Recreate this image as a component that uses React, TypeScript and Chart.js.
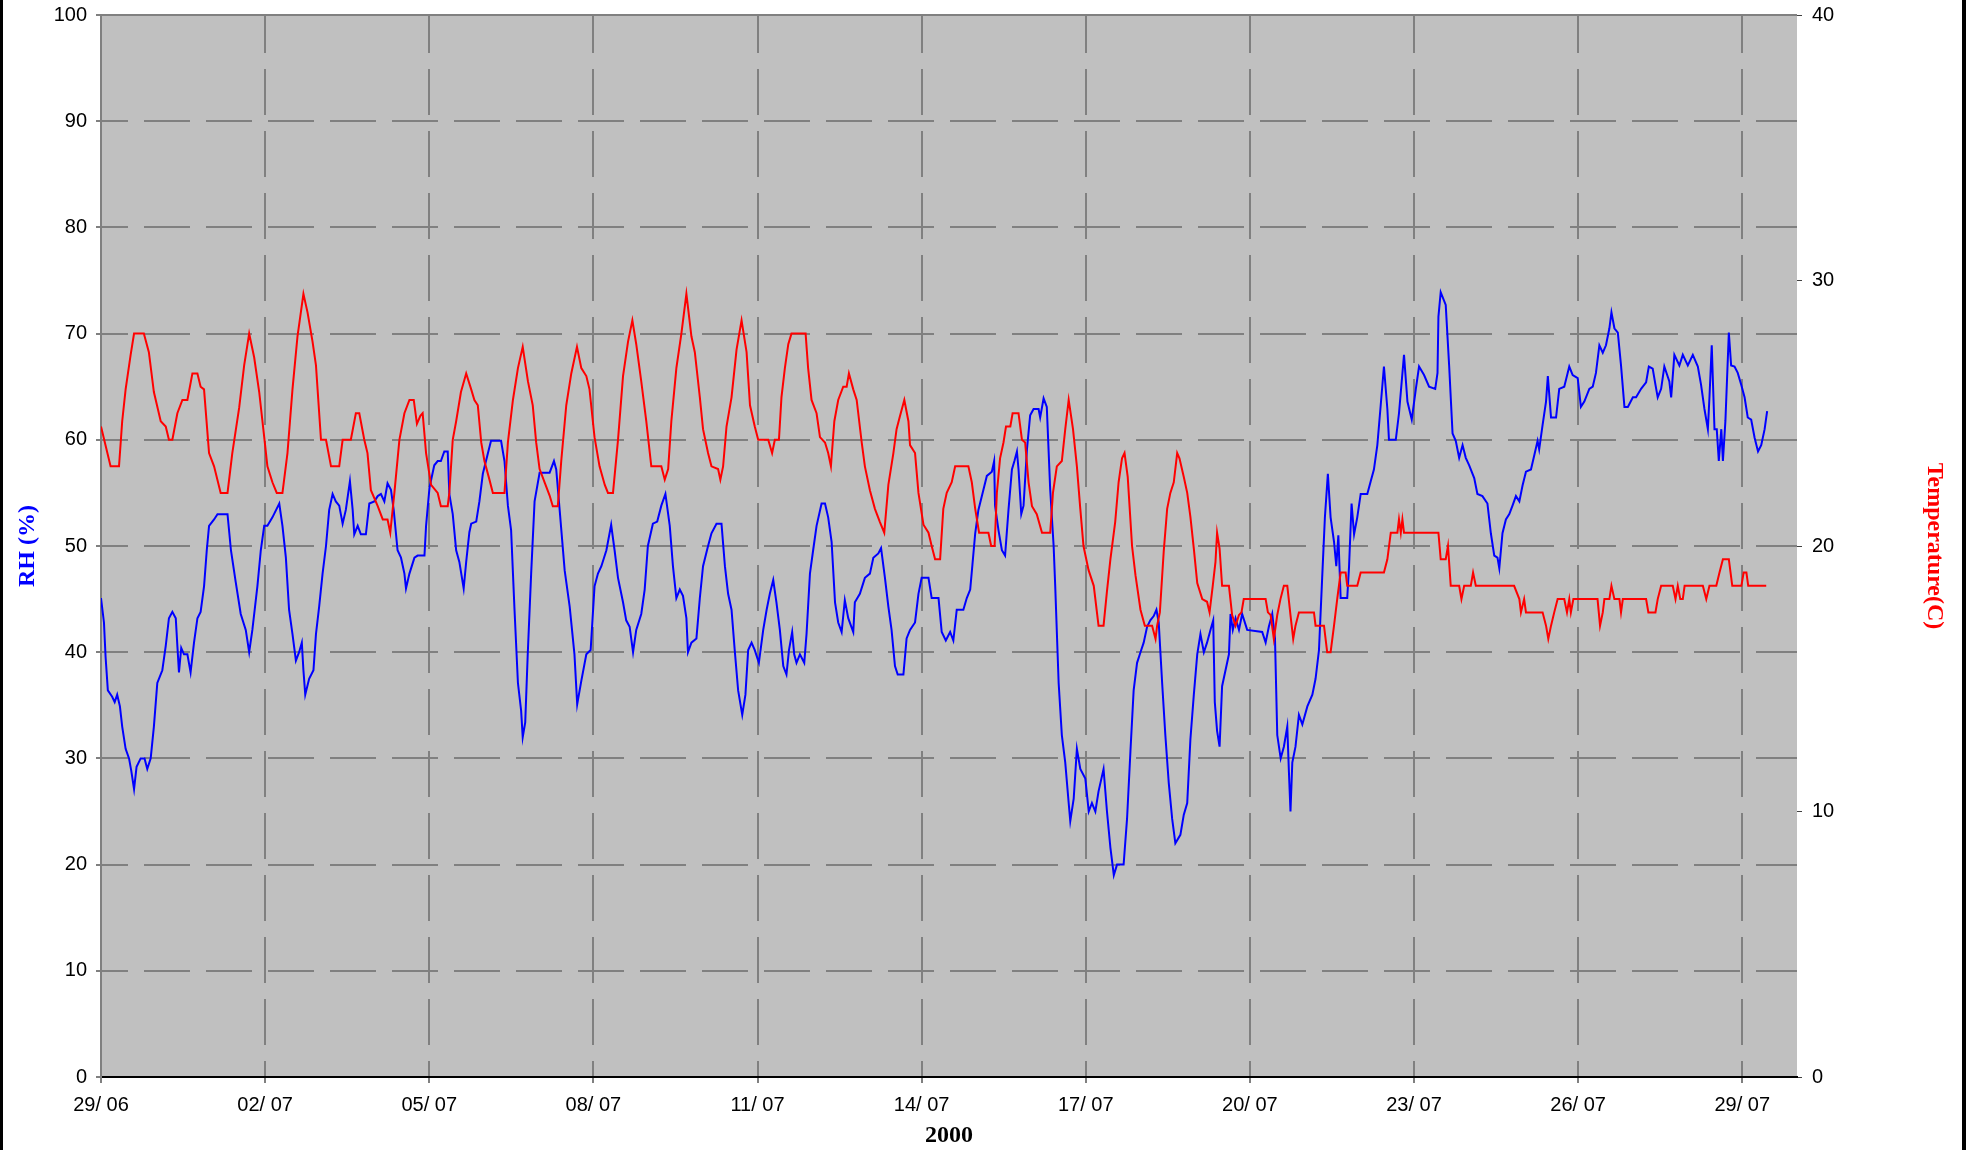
import React, { useEffect, useRef } from 'react';
import { Chart, registerables } from 'chart.js';

Chart.register(...registerables);

// x axis: hours since 29/06 00:00
const xTickHours = [0, 72, 144, 216, 288, 360, 432, 504, 576, 648, 720];
const xTickLabels = ['29/ 06', '02/ 07', '05/ 07', '08/ 07', '11/ 07', '14/ 07', '17/ 07', '20/ 07', '23/ 07', '26/ 07', '29/ 07'];
const rhTicks = [0, 10, 20, 30, 40, 50, 60, 70, 80, 90, 100];
const tempTicks = [0, 10, 20, 30, 40];

const rhHours = [
  0, 1.3, 2.0, 3.0, 4.9, 6.0, 7.1, 8.3, 9.3, 10.8, 12.3, 13.3, 14.5, 15.6, 17.4, 19.1, 20.3, 21.8, 23.2, 24.7,
  26.9, 28.4, 29.8, 31.3, 32.8, 33.5, 34.2, 35.2, 36.4, 37.9, 39.3, 40.8, 42.3, 43.7, 45.2, 46.4, 47.4, 49.6, 51.1, 55.5,
  57.0, 59.1, 61.3, 63.5, 65.0, 66.4, 68.6, 70.1, 71.6, 73.0, 75.2, 78.2, 79.6, 81.1, 82.5, 84.0, 85.5, 86.9, 88.1, 88.8,
  89.6, 91.3, 93.2, 94.3, 95.7, 97.2, 98.7, 100.1, 101.6, 103.0, 104.5, 106.0, 107.4, 109.2, 110.4, 111.1, 112.6, 114.0, 116.2, 117.7,
  119.9, 121.4, 122.8, 124.3, 125.7, 127.2, 128.4, 130.1, 131.6, 133.1, 133.8, 135.3, 137.5, 138.9, 141.9, 142.6, 144.1, 146.2, 147.7, 149.1,
  150.6, 152.1, 152.8, 154.3, 155.8, 157.2, 159.1, 160.2, 161.6, 162.4, 164.6, 166.0, 167.5, 169.7, 171.1, 175.5, 177.0, 178.5, 179.9, 181.4,
  182.9, 184.3, 185.0, 186.1, 187.2, 188.7, 190.2, 192.4, 196.8, 198.7, 199.7, 201.2, 203.4, 205.6, 207.7, 208.9, 210.7, 212.9, 214.8, 216.5,
  218.0, 219.5, 221.7, 223.8, 225.3, 226.8, 229.0, 230.4, 231.9, 233.4, 234.8, 237.0, 238.5, 239.9, 242.1, 244.0, 245.8, 247.6, 249.5, 250.9,
  252.4, 253.9, 255.3, 256.8, 257.5, 259.0, 261.2, 262.7, 264.1, 266.3, 267.8, 270.0, 272.2, 273.7, 275.1, 276.6, 278.0, 279.5, 281.3, 282.7,
  283.9, 285.4, 286.8, 288.6, 290.5, 292.0, 293.4, 294.9, 296.3, 297.8, 299.3, 300.7, 301.8, 303.2, 304.1, 305.1, 306.6, 308.5, 309.5, 311.0,
  312.4, 313.9, 316.1, 317.6, 319.0, 320.5, 322.0, 323.4, 324.9, 326.3, 327.8, 330.0, 330.7, 332.9, 335.1, 337.3, 338.8, 341.0, 342.2, 343.9,
  345.4, 346.8, 348.3, 349.5, 352.0, 353.4, 354.9, 357.1, 358.6, 360.0, 363.0, 364.4, 367.4, 368.8, 370.6, 372.5, 373.9, 375.4, 378.3, 379.8,
  381.3, 382.3, 383.5, 384.9, 387.1, 388.6, 390.8, 391.8, 392.2, 393.7, 395.2, 396.6, 398.1, 399.6, 400.7, 401.8, 402.5, 403.7, 404.7, 406.2,
  407.6, 409.1, 411.3, 412.0, 413.5, 414.9, 416.4, 417.9, 418.6, 420.1, 421.5, 423.0, 424.5, 425.2, 426.7, 428.1, 429.6, 431.8, 433.3, 434.7,
  436.2, 437.6, 439.8, 441.3, 442.8, 444.3, 445.7, 448.6, 450.1, 451.6, 453.0, 454.5, 456.0, 457.4, 458.9, 460.3, 461.8, 463.0, 464.0, 465.5,
  466.9, 468.4, 469.9, 471.3, 473.5, 475.0, 476.5, 477.9, 479.4, 480.9, 482.3, 483.8, 485.2, 486.7, 487.9, 488.6, 489.6, 490.7, 491.8, 493.3,
  494.8, 495.5, 496.5, 497.7, 499.2, 500.6, 502.8, 509.4, 510.9, 512.3, 513.8, 515.0, 516.0, 517.5, 518.9, 520.4, 521.1, 521.8, 522.6, 524.0,
  525.5, 527.0, 529.2, 531.4, 532.8, 534.3, 535.7, 536.9, 538.2, 539.4, 540.9, 541.9, 542.8, 543.8, 546.7, 547.5, 548.6, 549.7, 551.1, 552.6,
  555.5, 557.0, 558.4, 559.9, 561.4, 562.8, 564.3, 565.0, 568.0, 569.4, 571.6, 573.1, 575.0, 576.8, 578.2, 580.4, 582.6, 585.3, 586.3, 586.7,
  587.7, 589.9, 591.4, 592.9, 594.3, 595.8, 597.3, 598.7, 600.2, 602.4, 603.8, 606.0, 608.2, 609.7, 611.2, 612.6, 613.4, 614.8, 616.3, 617.8,
  619.2, 620.7, 622.2, 623.6, 625.1, 627.3, 628.7, 630.2, 630.9, 632.4, 633.9, 634.7, 636.1, 638.3, 639.7, 641.9, 644.1, 645.6, 647.8, 649.2,
  650.7, 652.9, 654.4, 655.8, 657.3, 658.8, 660.2, 661.7, 662.6, 663.9, 665.4, 666.8, 668.3, 669.8, 672.0, 673.4, 675.6, 677.8, 679.0, 680.7,
  681.9, 682.9, 684.4, 685.8, 688.0, 688.8, 690.2, 692.4, 693.9, 696.1, 698.3, 700.5, 701.9, 703.4, 704.9, 705.6, 706.6, 707.8, 708.8, 709.7,
  710.8, 711.5, 712.6, 714.1, 715.1, 716.6, 718.0, 719.5, 721.0, 722.4, 723.9, 725.4, 726.9, 728.3, 729.8, 730.9,
];
const rhValues = [
  45.1, 42.8, 39.6, 36.4, 35.8, 35.3, 36.0, 34.9, 33.0, 30.9, 30.0, 28.8, 27.1, 29.2, 30.0, 30.0, 29.0, 30.0, 33.0, 37.1,
  38.3, 40.6, 43.2, 43.8, 43.2, 40.6, 38.1, 40.4, 39.8, 39.8, 38.1, 40.9, 43.2, 43.8, 46.2, 49.6, 51.9, 52.5, 53.0, 53.0,
  49.6, 46.6, 43.6, 42.1, 40.0, 42.1, 46.2, 49.6, 51.9, 51.9, 52.7, 54.0, 51.9, 48.9, 44.0, 41.7, 39.2, 40.0, 40.9, 38.3,
  36.0, 37.5, 38.3, 41.7, 44.3, 47.4, 50.0, 53.4, 54.9, 54.2, 53.8, 52.1, 53.4, 56.1, 53.4, 51.1, 51.9, 51.1, 51.1, 54.0,
  54.2, 54.7, 54.9, 54.2, 55.9, 55.3, 53.4, 49.6, 48.9, 47.4, 46.0, 47.4, 48.9, 49.1, 49.1, 51.9, 55.5, 57.6, 58.0, 58.0,
  58.9, 58.9, 54.9, 53.0, 49.6, 48.5, 46.0, 48.5, 51.3, 52.1, 52.3, 54.2, 56.8, 58.7, 59.9, 59.9, 58.0, 53.8, 51.5, 44.0,
  37.1, 34.5, 32.0, 33.4, 39.8, 47.4, 54.2, 56.9, 56.9, 58.0, 57.2, 53.4, 47.7, 44.3, 39.8, 35.1, 37.3, 39.8, 40.2, 46.2,
  47.4, 48.1, 49.6, 52.0, 49.6, 47.0, 44.7, 43.0, 42.4, 40.0, 42.1, 43.6, 45.9, 50.0, 52.1, 52.3, 53.8, 54.9, 51.9, 48.1,
  45.1, 45.9, 45.3, 43.2, 40.0, 40.9, 41.3, 45.1, 48.1, 50.0, 51.2, 52.1, 52.1, 48.1, 45.5, 44.0, 40.2, 36.4, 34.1, 36.0,
  40.2, 40.9, 40.2, 39.0, 42.1, 44.0, 45.5, 46.8, 44.7, 42.1, 38.7, 37.9, 40.2, 41.9, 39.8, 39.0, 39.8, 39.0, 41.7, 47.4,
  49.6, 51.9, 54.0, 54.0, 52.7, 50.4, 44.7, 42.8, 41.9, 44.9, 43.2, 41.9, 44.7, 45.5, 47.0, 47.4, 48.9, 49.3, 49.8, 47.0,
  44.3, 42.1, 38.7, 37.9, 37.9, 41.3, 42.1, 42.8, 45.5, 47.0, 47.0, 45.1, 45.1, 41.9, 41.1, 41.9, 41.1, 44.0, 44.0, 45.1,
  45.9, 48.3, 51.2, 53.4, 55.3, 56.6, 57.0, 58.0, 53.8, 51.5, 49.6, 49.1, 53.4, 57.2, 58.0, 58.9, 57.2, 53.0, 53.8, 59.1,
  62.3, 62.9, 62.9, 62.1, 63.9, 63.1, 55.3, 50.0, 46.2, 37.1, 32.2, 29.6, 25.8, 24.1, 26.2, 30.9, 29.0, 28.1, 25.0, 25.8,
  25.0, 26.9, 29.0, 25.0, 21.6, 19.0, 20.0, 20.0, 24.3, 30.7, 36.4, 39.0, 40.0, 40.9, 42.4, 43.0, 43.4, 44.0, 42.8, 37.1,
  32.2, 27.7, 24.3, 22.0, 22.8, 24.7, 25.8, 31.8, 36.0, 39.8, 41.7, 40.0, 40.9, 42.1, 43.0, 35.3, 32.6, 31.1, 36.8, 38.3,
  39.8, 43.6, 42.1, 43.2, 42.1, 43.6, 42.1, 41.9, 40.9, 42.4, 43.6, 41.3, 32.2, 30.0, 31.1, 33.0, 28.8, 25.0, 29.6, 31.1,
  34.1, 33.2, 34.9, 36.0, 37.5, 40.2, 47.0, 52.7, 56.8, 52.7, 50.4, 48.1, 51.0, 45.1, 45.1, 48.1, 54.0, 51.1, 52.7, 54.9,
  54.9, 56.1, 57.2, 59.5, 63.3, 66.9, 62.9, 60.0, 60.0, 62.5, 68.0, 63.6, 61.9, 64.8, 66.9, 66.1, 65.0, 64.8, 66.3, 71.6,
  73.9, 72.7, 67.0, 60.6, 59.9, 58.3, 59.5, 58.3, 57.6, 56.4, 54.9, 54.7, 54.0, 51.2, 49.1, 48.9, 47.9, 51.2, 52.5, 53.0,
  53.8, 54.7, 54.2, 55.7, 57.0, 57.2, 58.5, 59.9, 59.1, 61.4, 63.6, 66.0, 62.1, 62.1, 64.8, 65.0, 66.9, 66.1, 65.8, 63.1,
  63.6, 64.8, 65.0, 66.3, 68.9, 68.2, 68.9, 70.5, 72.0, 70.5, 70.1, 67.0, 63.1, 63.1, 64.0, 64.0, 64.8, 65.4, 66.9, 66.7,
  65.2, 64.0, 64.8, 66.9, 65.5, 64.0, 68.0, 67.0, 68.0, 67.0, 68.0, 66.9, 65.2, 62.9, 61.0, 64.0, 68.9, 61.0, 61.0, 58.0,
  61.0, 58.0, 61.8, 70.1, 67.0, 66.9, 66.3, 65.2, 64.0, 62.1, 61.9, 60.2, 58.9, 59.5, 61.0, 62.7,
];

const tempHours = [
  0, 4.2, 7.9, 9.3, 10.8, 13.0, 14.5, 18.8, 21.0, 23.2, 26.2, 28.4, 29.8, 31.3, 33.5, 35.7, 37.9, 40.1, 42.3, 43.7,
  45.2, 47.4, 49.6, 52.5, 55.5, 57.6, 60.6, 62.8, 65.0, 67.2, 69.4, 71.6, 73.0, 75.2, 77.1, 79.6, 81.8, 84.0, 86.2, 88.8,
  90.6, 92.8, 94.3, 96.5, 98.7, 100.9, 104.5, 106.0, 109.6, 111.8, 113.3, 115.5, 116.9, 118.4, 121.4, 123.6, 125.7, 126.9, 128.7, 130.9,
  133.1, 135.3, 137.2, 138.6, 140.1, 141.1, 142.6, 144.8, 147.7, 149.1, 152.1, 152.8, 154.3, 155.8, 157.9, 160.2, 162.4, 163.8, 165.3, 166.8,
  168.2, 170.4, 171.9, 177.0, 178.5, 180.7, 182.9, 185.0, 187.3, 189.4, 190.9, 192.4, 194.6, 196.8, 198.2, 200.4, 201.9, 204.1, 206.3, 208.8,
  210.7, 212.9, 214.3, 216.5, 218.7, 221.0, 222.4, 224.6, 226.8, 229.0, 231.2, 233.1, 234.8, 237.0, 239.2, 241.4, 245.8, 247.3, 248.8, 250.2,
  252.4, 254.6, 256.8, 259.0, 260.5, 262.7, 264.1, 266.3, 267.8, 270.7, 271.7, 272.9, 274.4, 276.6, 278.8, 281.0, 283.2, 284.7, 286.8, 288.3,
  292.7, 294.4, 295.6, 297.4, 298.5, 300.0, 301.5, 302.9, 309.1, 310.2, 311.7, 313.9, 315.4, 317.6, 319.0, 320.2, 321.7, 323.4, 325.6, 327.1,
  328.1, 330.0, 331.5, 333.7, 335.1, 337.3, 339.5, 341.7, 343.6, 345.4, 347.6, 349.0, 350.5, 352.4, 354.2, 354.9, 357.1, 358.6, 360.8, 363.0,
  364.4, 365.9, 368.1, 369.5, 371.0, 373.2, 374.7, 380.5, 382.0, 383.5, 385.2, 389.3, 390.5, 392.0, 393.0, 394.4, 395.9, 397.0, 398.9, 399.9,
  402.5, 404.0, 405.4, 406.9, 408.4, 410.5, 412.8, 416.4, 417.6, 419.3, 421.5, 423.0, 424.5, 426.4, 428.1, 429.6, 431.0, 433.2, 435.5, 437.6,
  439.8, 441.3, 442.8, 444.9, 446.4, 447.9, 449.0, 450.4, 452.3, 453.8, 456.0, 457.9, 461.1, 462.6, 463.3, 464.5, 466.2, 467.7, 469.1, 470.6,
  472.1, 473.1, 475.0, 476.5, 477.9, 479.4, 480.9, 483.1, 485.2, 486.3, 487.7, 488.9, 489.6, 490.7, 491.8, 494.8, 496.2, 497.7, 499.2, 500.3,
  501.3, 510.9, 511.9, 513.1, 514.5, 516.0, 517.4, 518.9, 520.4, 521.8, 523.0, 524.0, 525.5, 532.1, 532.8, 536.5, 537.9, 539.4, 540.9, 542.3,
  543.8, 546.0, 546.7, 551.1, 552.6, 562.8, 564.3, 565.8, 568.7, 569.4, 570.2, 570.9, 571.6, 586.7, 587.7, 589.9, 590.9, 592.1, 595.8, 596.8,
  598.0, 600.9, 601.9, 603.1, 619.9, 622.2, 622.9, 624.3, 625.1, 632.4, 633.9, 634.9, 636.1, 637.5, 639.0, 641.9, 643.1, 644.1, 644.8, 645.9,
  656.5, 657.6, 658.8, 659.5, 661.7, 662.6, 663.9, 666.1, 666.8, 667.6, 677.8, 678.8, 681.9, 682.9, 684.4, 689.5, 690.7, 691.7, 692.8, 693.9,
  694.7, 702.7, 704.2, 705.6, 708.6, 710.0, 711.5, 714.1, 715.6, 719.6, 720.6, 721.8, 722.6, 730.5,
];
const tempValues = [
  24.5, 23.0, 23.0, 24.7, 25.9, 27.2, 28.0, 28.0, 27.3, 25.8, 24.7, 24.5, 24.0, 24.0, 25.0, 25.5, 25.5, 26.5, 26.5, 26.0,
  25.9, 23.5, 23.0, 22.0, 22.0, 23.5, 25.2, 26.8, 28.0, 27.1, 25.8, 24.1, 23.0, 22.4, 22.0, 22.0, 23.5, 25.9, 27.9, 29.5,
  28.8, 27.7, 26.8, 24.0, 24.0, 23.0, 23.0, 24.0, 24.0, 25.0, 25.0, 24.0, 23.5, 22.1, 21.5, 21.0, 21.0, 20.5, 22.0, 24.0,
  25.0, 25.5, 25.5, 24.6, 24.9, 25.0, 23.5, 22.3, 22.0, 21.5, 21.5, 22.0, 24.0, 24.7, 25.8, 26.5, 25.9, 25.5, 25.3, 23.9,
  23.2, 22.5, 22.0, 22.0, 23.9, 25.5, 26.7, 27.5, 26.2, 25.3, 23.9, 22.9, 22.4, 21.9, 21.5, 21.5, 23.2, 25.3, 26.5, 27.5,
  26.7, 26.4, 25.9, 24.1, 23.0, 22.3, 22.0, 22.0, 24.0, 26.4, 27.7, 28.5, 27.6, 26.2, 24.7, 23.0, 23.0, 22.5, 22.9, 24.7,
  26.7, 28.0, 29.5, 27.9, 27.3, 25.6, 24.4, 23.5, 23.0, 22.9, 22.5, 23.0, 24.5, 25.6, 27.4, 28.5, 27.3, 25.3, 24.5, 24.0,
  24.0, 23.5, 24.0, 24.0, 25.6, 26.7, 27.6, 28.0, 28.0, 26.7, 25.5, 25.0, 24.1, 23.9, 23.5, 23.0, 24.7, 25.5, 26.0, 26.0,
  26.5, 25.9, 25.5, 23.9, 23.0, 22.1, 21.4, 20.9, 20.5, 22.3, 23.5, 24.4, 24.9, 25.5, 24.7, 23.8, 23.5, 22.0, 20.8, 20.5,
  20.0, 19.5, 19.5, 21.4, 22.0, 22.4, 23.0, 23.0, 22.4, 21.4, 20.5, 20.5, 20.0, 20.0, 22.0, 23.3, 23.9, 24.5, 24.5, 25.0,
  25.0, 24.0, 23.9, 22.4, 21.5, 21.2, 20.5, 20.5, 22.0, 23.0, 23.2, 24.4, 25.5, 24.4, 23.0, 21.4, 20.0, 19.1, 18.5, 17.0,
  17.0, 18.3, 19.5, 20.9, 22.4, 23.3, 23.5, 22.6, 20.0, 18.9, 17.6, 17.0, 17.0, 16.5, 17.0, 17.5, 19.8, 21.4, 22.0, 22.4,
  23.5, 23.3, 22.6, 22.0, 21.1, 19.9, 18.6, 18.0, 17.9, 17.5, 18.5, 19.4, 20.5, 19.9, 18.5, 18.5, 17.4, 17.0, 17.4, 17.5,
  18.0, 18.0, 17.5, 17.4, 16.5, 17.4, 18.0, 18.5, 18.5, 17.4, 16.5, 17.0, 17.5, 17.5, 17.0, 17.0, 16.0, 16.0, 17.0, 18.0,
  19.0, 19.0, 18.5, 18.5, 19.0, 19.0, 19.5, 20.5, 20.5, 21.0, 20.5, 21.0, 20.5, 20.5, 19.5, 19.5, 20.0, 18.5, 18.5, 18.0,
  18.5, 18.5, 19.0, 18.5, 18.5, 18.0, 17.5, 18.0, 17.5, 17.5, 17.0, 16.5, 17.0, 17.5, 18.0, 18.0, 17.5, 18.0, 17.5, 18.0,
  18.0, 17.0, 17.5, 18.0, 18.0, 18.5, 18.0, 18.0, 17.5, 18.0, 18.0, 17.5, 17.5, 18.0, 18.5, 18.5, 18.0, 18.5, 18.0, 18.0,
  18.5, 18.5, 18.0, 18.5, 18.5, 19.0, 19.5, 19.5, 18.5, 18.5, 19.0, 19.0, 18.5, 18.5,
];

const tickFont = { family: "'Liberation Sans', Arial, sans-serif", size: 20 };
const titleFont = { family: "'Liberation Serif', 'Times New Roman', serif", size: 24, weight: 'bold' as const };
const gridColor = '#808080';

const plotBg = {
  id: 'plotBg',
  beforeDraw(chart: any) {
    const { ctx, chartArea: a } = chart;
    ctx.save();
    ctx.fillStyle = '#C0C0C0';
    ctx.fillRect(a.left, a.top, a.right - a.left, a.bottom - a.top);
    ctx.strokeStyle = gridColor;
    ctx.lineWidth = 2;
    ctx.beginPath();
    ctx.moveTo(a.left, a.top);
    ctx.lineTo(a.right, a.top);
    ctx.stroke();
    ctx.restore();
  },
};

export default function App() {
  const ref = useRef<HTMLCanvasElement>(null);

  useEffect(() => {
    const rhData = rhHours.map((h, i) => ({ x: h, y: rhValues[i] }));
    const tempData = tempHours.map((h, i) => ({ x: h, y: tempValues[i] }));
    const chart = new Chart(ref.current as HTMLCanvasElement, {
      type: 'line',
      data: {
        datasets: [
          {
            label: 'Temperature(C)',
            data: tempData,
            yAxisID: 'y1',
            borderColor: '#FF0000',
            borderWidth: 2,
            pointRadius: 0,
            tension: 0,
            order: 0,
          },
          {
            label: 'RH (%)',
            data: rhData,
            yAxisID: 'y',
            borderColor: '#0000FF',
            borderWidth: 2,
            pointRadius: 0,
            tension: 0,
            order: 1,
          },
        ],
      },
      options: {
        responsive: false,
        animation: false,
        layout: { padding: { top: 15, left: 0, right: 0, bottom: 0 } },
        plugins: { legend: { display: false }, tooltip: { enabled: false } },
        scales: {
          x: {
            type: 'linear',
            position: 'bottom',
            min: 0,
            max: 744,
            afterBuildTicks: (s: any) => {
              s.ticks = xTickHours.map((v) => ({ value: v }));
            },
            afterFit: (s: any) => {
              s.height = 73;
              s.paddingLeft = 0;
              s.paddingRight = 0;
            },
            ticks: {
              callback: (v: any) => xTickLabels[xTickHours.indexOf(Number(v))] ?? '',
              font: tickFont,
              color: '#000',
              padding: 10,
              maxRotation: 0,
              autoSkip: false,
            },
            grid: {
              color: gridColor,
              lineWidth: 2,
              tickLength: 6,
              tickColor: gridColor,
              tickBorderDash: [],
            },
            border: { display: true, color: '#000', width: 2, dash: [46, 16], dashOffset: 8 },
            title: {
              display: true,
              text: '2000',
              font: titleFont,
              color: '#000',
              padding: { top: 0, bottom: 0 },
            },
          },
          y: {
            type: 'linear',
            position: 'left',
            min: 0,
            max: 100,
            afterBuildTicks: (s: any) => {
              s.ticks = rhTicks.map((v) => ({ value: v }));
            },
            afterFit: (s: any) => {
              s.width = 101;
              s.paddingTop = 0;
              s.paddingBottom = 0;
            },
            ticks: { font: tickFont, color: '#000', padding: 9 },
            grid: {
              color: gridColor,
              lineWidth: 2,
              tickLength: 5,
              tickColor: gridColor,
              tickBorderDash: [],
            },
            border: { display: true, color: gridColor, width: 2, dash: [46, 16], dashOffset: 20 },
            title: {
              display: true,
              text: 'RH (%)',
              font: titleFont,
              color: '#0000FF',
              padding: { top: 13, bottom: 0 },
            },
          },
          y1: {
            type: 'linear',
            position: 'right',
            min: 0,
            max: 40,
            afterBuildTicks: (s: any) => {
              s.ticks = tempTicks.map((v) => ({ value: v }));
            },
            afterFit: (s: any) => {
              s.width = 169;
              s.paddingTop = 0;
              s.paddingBottom = 0;
            },
            ticks: { font: tickFont, color: '#000', padding: 10 },
            grid: {
              drawOnChartArea: false,
              tickLength: 5,
              tickColor: '#404040',
              lineWidth: 1,
            },
            border: { display: false },
            title: {
              display: true,
              text: 'Temperature(C)',
              font: titleFont,
              color: '#FF0000',
              padding: { top: 17, bottom: 0 },
            },
          },
        },
      } as any,
      plugins: [plotBg],
    });
    return () => chart.destroy();
  }, []);

  return (
    <div style={{ position: 'absolute', left: 0, top: 0, width: 1966, height: 1150, background: '#fff' }}>
      <canvas ref={ref} width={1966} height={1150} style={{ display: 'block', width: 1966, height: 1150 }} />
      <div style={{ position: 'absolute', left: 0, top: 0, width: 3, height: 1150, background: '#000' }} />
      <div style={{ position: 'absolute', left: 1962, top: 0, width: 4, height: 1150, background: '#000' }} />
    </div>
  );
}
